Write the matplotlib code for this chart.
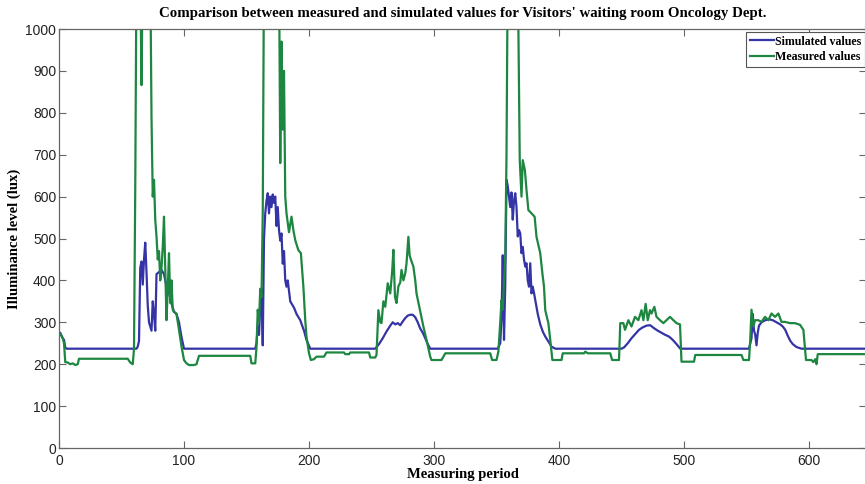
import matplotlib.pyplot as plt

# Simulated illuminance (lux) per measuring period
sim_x = [0, 1, 2, 3, 4, 5, 6,
         62, 63, 64, 65, 66, 67, 68, 69, 70, 71, 72, 73, 74, 75, 76, 77, 78, 80, 82, 84, 86, 88, 90, 92, 94, 96, 98, 100,
         157, 158, 159, 160, 161, 162, 163, 164, 165, 166, 167, 168, 169, 170, 171, 172, 173, 174, 175, 176, 177, 178,
         179, 180, 181, 182, 183, 185, 188, 190, 193, 196, 198, 201,
         253, 256, 259, 262, 265, 267, 269, 271, 273, 275, 277, 279, 281, 283, 285, 287, 289, 291, 293, 295, 297,
         351, 353, 354, 355, 356, 357, 358, 359, 360, 361, 362, 363, 364, 365, 366, 367, 368, 369, 370, 371, 372, 373,
         374, 375, 376, 377, 378, 379, 380, 381, 383, 385, 387, 389, 392, 394, 397,
         450, 452, 455, 458, 461, 464, 467, 470, 473, 476, 479, 482, 485, 488, 491, 494, 497,
         552, 554, 555, 556, 557, 558, 559, 560, 562, 565, 568, 571, 574, 577, 579, 581, 583, 585, 587, 590, 594,
         646]
sim_y = [272, 275, 268, 262, 258, 240, 237,
         237, 242, 255, 430, 445, 390, 450, 490, 420, 340, 300, 290, 280, 350, 320, 280, 415, 420, 425, 415, 385, 370, 345,
         325, 320, 300, 265, 237,
         237, 250, 290, 270, 340, 380, 245, 500, 560, 590, 608, 560, 600, 575, 605, 585, 600, 530, 575, 520, 495, 512,
         440, 470, 400, 385, 400, 350, 335, 320, 305, 280, 258, 237,
         237, 248, 262, 278, 292, 300, 295, 298, 293, 302, 310, 316, 318, 318, 312, 300, 285, 275, 262, 248, 237,
         237, 250, 310, 460, 258, 390, 640, 625, 600, 575, 610, 545, 590, 608, 575, 505, 520, 512, 465, 480, 450, 433,
         441, 400, 385, 441, 369, 385, 370, 353, 320, 295, 278, 266, 252, 242, 237,
         237, 240, 250, 262, 272, 282, 288, 292, 293, 286, 280, 275, 270, 266, 258, 248, 237,
         237, 262, 320, 280, 270, 245, 275, 292, 300, 305, 307, 305, 300, 295, 290, 282, 268, 256, 248, 241, 237,
         237]

# Measured illuminance (lux); readings above 1000 run off the top of the axes
meas_x = [0, 1, 2, 3, 4, 5, 7, 9, 11, 13, 15, 16, 55, 57, 59, 60,
          61, 62, 63, 64, 65, 66, 67, 68, 72, 73, 74, 75, 76, 77, 78, 79, 80, 81, 82, 83, 84, 85, 86, 87, 88, 89, 90,
          91, 92, 94, 96, 98, 100, 102,
          104, 108, 110, 112, 153, 154, 157,
          158, 159, 160, 161, 162, 163, 164, 165, 175, 176, 177, 178, 179, 180, 181, 182, 184, 186, 187.5, 189, 191.5,
          193.5, 195.5, 197, 198, 200, 201.5, 204, 206, 212,
          214, 228, 229, 232, 233, 248, 249, 253,
          254, 255.5, 257, 258, 259.5, 261, 263, 265, 266.5, 267.5, 268.8, 270, 271.5, 273, 274, 275.5, 277, 278, 279.5,
          280.5, 281.6, 283.5, 285, 286, 288.8, 291.5, 294, 297, 298, 306, 309,
          345, 346.5, 350, 351.5, 353, 354, 355, 356, 357, 358, 359, 366, 367, 368.6, 370, 371, 372.7, 374, 375.5, 378,
          380.5, 382, 385, 386.7, 388, 389, 391.5, 393, 394.7, 402, 403,
          420, 421, 423, 441, 442.5, 448,
          449, 451.5, 452.8, 455.5, 458, 460.8, 463.5, 466, 467.5, 469.3, 471, 472.8, 474, 476.3, 478, 480.8, 483.5,
          486, 488.8, 491.5, 494, 496.8, 498, 508, 509,
          546, 547.5, 552,
          553, 554, 555.5, 556.8, 559.4, 562, 564.8, 567.5, 570, 572.8, 575.5, 578, 580.8, 584.8, 588.8, 592.8, 595.5,
          597.6, 602, 603.5, 605, 606, 607, 646]
meas_y = [270, 272, 268, 262, 250, 205, 204, 200, 202, 198, 200, 213, 213, 204, 200, 237,
          620, 1150, 1150, 1150, 1150, 866, 1150, 1150, 1150, 1150, 790, 600, 640, 545, 505, 450, 470, 400, 430, 480,
          552, 425, 305, 380, 465, 346, 400, 330, 325, 320, 282, 242, 210, 202,
          198, 198, 200, 220, 220, 202, 202,
          240, 330, 300, 380, 360, 560, 1150, 1150, 1150, 1150, 680, 970, 760, 900, 600, 560, 515, 552, 520, 496, 472,
          465, 385, 305, 266, 226, 210, 212, 218, 218,
          228, 228, 224, 224, 228, 228, 216, 216,
          222, 329, 300, 298, 350, 337, 393, 369, 420, 473, 360, 346, 386, 395, 425, 400, 417, 440, 504,
          460, 449, 433, 400, 369, 329, 290, 258, 218, 210, 210, 226,
          226, 210, 210, 230, 300, 353, 330, 400, 450, 700, 1150, 1150, 1150, 687, 600, 687, 663, 616, 568, 560,
          552, 504, 465, 417, 385, 329, 298, 258, 210, 210, 226,
          226, 230, 226, 226, 210, 210,
          298, 298, 282, 305, 290, 313, 305, 329, 305, 344, 305, 329, 321, 337, 313, 305, 298,
          305, 313, 305, 298, 295, 206, 206, 222,
          222, 210, 210,
          258, 330, 290, 305, 305, 301, 313, 305, 321, 313, 321, 301, 301, 298, 298, 294, 282,
          210, 210, 205, 212, 200, 224, 224]

x_ticks = [0, 100, 200, 300, 400, 500, 600]
y_ticks = [0, 100, 200, 300, 400, 500, 600, 700, 800, 900, 1000]

SERIF = 'Liberation Serif'
SANS = 'Liberation Sans'


def main() -> None:
    fig = plt.figure(figsize=(8.65, 4.84), dpi=100)
    ax = fig.add_axes([59 / 865, 36 / 484, 807.5 / 865, 419 / 484])

    ax.plot(sim_x, sim_y, color='#3434a6', lw=1.6, label='Simulated values')
    ax.plot(meas_x, meas_y, color='#1d8640', lw=1.6, label='Measured values')

    ax.set_xlim(0, 646)
    ax.set_ylim(0, 1000)
    ax.set_xticks(x_ticks)
    ax.set_yticks(y_ticks)

    ax.tick_params(direction='in', length=5, width=0.8, color='#666666',
                   top=True, right=True, labelsize=10, labelcolor='#222222')
    ax.tick_params(axis='y', pad=2)
    ax.tick_params(axis='x', pad=4)
    for lab in ax.get_xticklabels() + ax.get_yticklabels():
        lab.set_fontfamily(SANS)
    for sp in ax.spines.values():
        sp.set_color('#666666')
        sp.set_linewidth(0.9)

    ax.set_title("Comparison between measured and simulated values for Visitors' waiting room Oncology Dept.",
                 fontfamily=SERIF, fontweight='bold', fontsize=10.7, pad=9)
    ax.set_xlabel('Measuring period', fontfamily=SERIF, fontweight='bold', fontsize=10.5, labelpad=0)
    ax.set_ylabel('Illuminance level (lux)', fontfamily=SERIF, fontweight='bold', fontsize=10.5, labelpad=3)

    # legend sits against the top edge, its frame running past the right border
    leg = ax.legend(loc='upper left', bbox_to_anchor=(0.851, 0.993), fancybox=False, framealpha=1,
                    edgecolor='#555555', handlelength=2.0, handletextpad=0.12, borderpad=0.3,
                    labelspacing=0.3, borderaxespad=0,
                    prop={'family': SERIF, 'weight': 'bold', 'size': 8.6})
    leg.get_frame().set_linewidth(0.8)

    fig.savefig('out.png', dpi=100)


if __name__ == "__main__":
    main()
